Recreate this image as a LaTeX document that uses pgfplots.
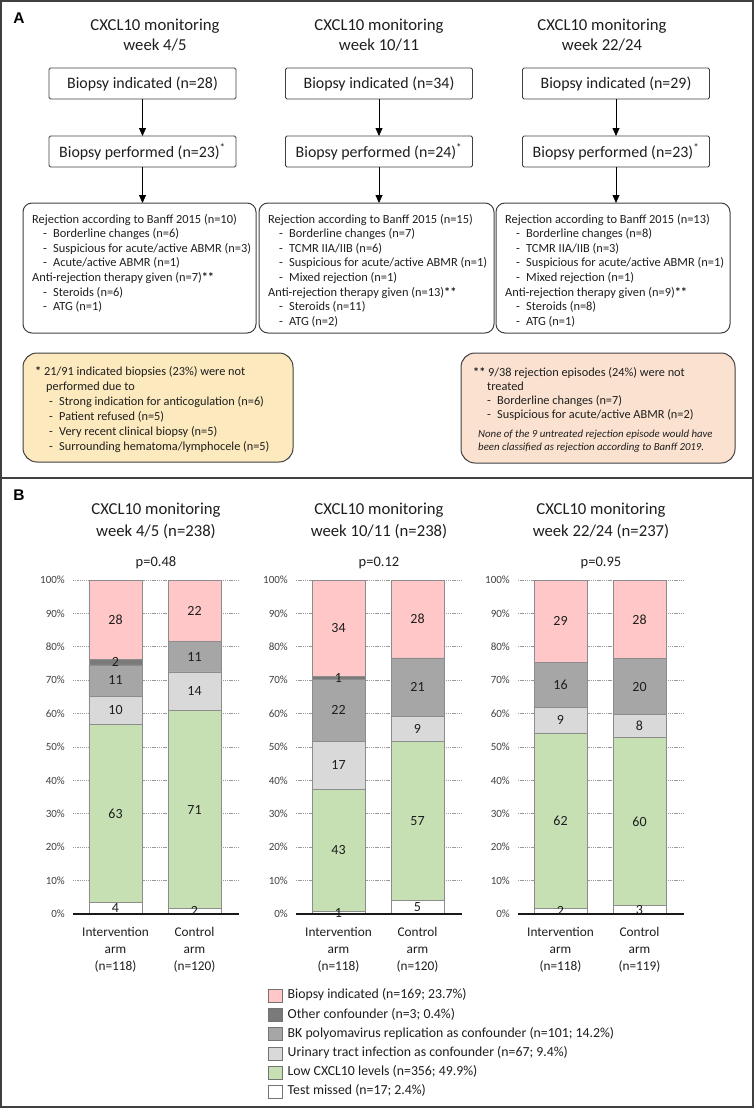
\documentclass[border=0pt]{standalone}
\usepackage{pgfplots}
\pgfplotsset{compat=1.18}
\usepackage{pgfplotstable}
\usepackage{fontspec}
\setmainfont{Carlito}
\newfontfamily\arialfont{Liberation Sans}
\usetikzlibrary{arrows.meta}

\definecolor{cbio}{HTML}{FFC7C7}
\definecolor{coth}{HTML}{7A7A7A}
\definecolor{cbk}{HTML}{A6A6A6}
\definecolor{cuti}{HTML}{D9D9D9}
\definecolor{clow}{HTML}{C6E0B4}
\definecolor{cmiss}{HTML}{FFFFFF}
\definecolor{cedge}{HTML}{8C8C8C}
\definecolor{cyel}{HTML}{FCE9BE}
\definecolor{cpink}{HTML}{FBE2D0}
\definecolor{cline}{HTML}{404040}
\definecolor{ctxt}{HTML}{1E1E1E}
\definecolor{cgrid}{HTML}{9A9A9A}

\newcommand{\fs}[2]{\fontsize{#1}{#2}\selectfont}
\newcommand{\hl}[3]{\node[anchor=base west, inner sep=0pt, font=\fs{12.4}{15}, text=ctxt] at (#1,#2) {#3};}
\newcommand{\bul}[3]{\node[anchor=base west, inner sep=0pt, font=\fs{12.4}{15}, text=ctxt] at (#1,#2) {\makebox[10pt][l]{-}#3};}
\newcommand{\yl}[3]{\node[anchor=base west, inner sep=0pt, font=\fs{12.3}{14}, text=ctxt] at (#1,#2) {#3};}
\newcommand{\ybul}[3]{\node[anchor=base west, inner sep=0pt, font=\fs{12.3}{14}, text=ctxt] at (#1,#2) {\makebox[10pt][l]{-}#3};}

% percentages of each arm (counts / arm size)
\pgfplotstableread{
x     miss   low    uti    bk     oth    bio
42.5  3.390  53.390 8.475  9.322  1.695  23.729
121.5 1.667  59.167 11.667 9.167  0      18.333
}\dataA
\pgfplotstableread{
x     miss   low    uti    bk     oth    bio
42.5  0.847  36.441 14.407 18.644 0.847  28.814
121.5 4.167  47.500 7.500  17.500 0      23.333
}\dataB
\pgfplotstableread{
x     miss   low    uti    bk     oth    bio
42.5  1.695  52.542 7.627  13.559 0      24.576
121.5 2.521  50.420 6.723  16.807 0      23.529
}\dataC
% segment mid-points and counts
\pgfplotstableread{
x     y      lab
42.5  1.695  4
42.5  30.085 63
42.5  61.017 10
42.5  69.915 11
42.5  75.424 2
42.5  88.136 28
121.5 0.833  2
121.5 31.250 71
121.5 66.667 14
121.5 77.083 11
121.5 90.833 22
}\labA
\pgfplotstableread{
x     y      lab
42.5  0.424  1
42.5  19.068 43
42.5  44.492 17
42.5  61.017 22
42.5  70.763 1
42.5  85.593 34
121.5 2.083  5
121.5 27.917 57
121.5 55.417 9
121.5 67.917 21
121.5 88.333 28
}\labB
\pgfplotstableread{
x     y      lab
42.5  0.847  2
42.5  27.966 62
42.5  58.051 9
42.5  68.644 16
42.5  87.712 29
121.5 1.261  3
121.5 27.731 60
121.5 56.303 8
121.5 68.067 20
121.5 88.235 28
}\labC

\pgfplotsset{
  barbase/.style={at={(#1pt,-914pt)}, anchor=south west, scale only axis,
    width=166pt, height=334pt, xmin=0, xmax=166, ymin=0, ymax=100},
  barax/.style={barbase=#1, ybar stacked, bar width=53pt,
    axis line style={draw=none}, major tick length=0pt, tick style={draw=none},
    ytick={0,10,...,100},
    yticklabels={0\%,10\%,20\%,30\%,40\%,50\%,60\%,70\%,80\%,90\%,100\%},
    yticklabel style={font=\fs{11}{12}, text=ctxt!85, anchor=east, inner sep=0pt, xshift=-8pt},
    xtick={42.5,121.5},
    xticklabel style={font=\fs{13.3}{17}, text=ctxt, align=center, anchor=north, inner sep=0pt, yshift=-13.5pt},
    ymajorgrids, major grid style={cgrid, line width=0.7pt, dash pattern=on 1.3pt off 0.9pt}},
  labax/.style={barbase=#1, axis x line*=bottom, axis y line=none, xtick=\empty, ytick=\empty,
    x axis line style={black!90, line width=1.5pt}, clip=false},
  segs/.style={draw=cedge, line width=0.7pt},
  labs/.style={draw=none, mark=none, nodes near coords, point meta=explicit symbolic,
    every node near coord/.append style={anchor=center, inner sep=0pt, font=\fs{14}{14}, text=ctxt}},
}

\begin{document}
\begin{tikzpicture}
\useasboundingbox (0pt,0pt) rectangle (754pt,-1108pt);
\begin{scope}[x=1pt,y=-1pt]
% frame
\draw[cline, line width=1.8pt] (1,1) rectangle (753,1107);
\draw[cline, line width=1.8pt] (1,478) -- (753,478);
\node[font=\arialfont\bfseries\fs{15.5}{15}] at (19,18.5) {A};
\node[font=\arialfont\bfseries\fs{15.5}{15}] at (19,495.5) {B};
% panel A titles
\foreach \cx/\wk in {155/4\slash 5, 379/10\slash 11, 602/22\slash 24}{
  \node[anchor=base, inner sep=0pt, font=\fs{16.7}{20}, text=ctxt] at (\cx,31) {CXCL10 monitoring};
  \node[anchor=base, inner sep=0pt, font=\fs{16.7}{20}, text=ctxt] at (\cx,51) {week \wk};
}
% small boxes and arrows
\foreach \cx/\a/\b in {142.5/28/23, 379/34/24, 616/29/23}{
  \node[draw=cline, line width=0.9pt, rounded corners=1.5pt, minimum width=187pt, minimum height=31pt, inner sep=0pt, font=\fs{15.9}{18}, text=ctxt] at (\cx,83.5) {Biopsy indicated (n=\a)};
  \node[draw=cline, line width=0.9pt, rounded corners=1.5pt, minimum width=187pt, minimum height=31pt, inner sep=0pt, font=\fs{15.9}{18}, text=ctxt] at (\cx,151.5) {Biopsy performed (n=\b)\textsuperscript{*}};
  \draw[black, line width=0.8pt, -{Triangle[width=7pt,length=8pt]}] (\cx,99) -- (\cx,136);
  \draw[black, line width=0.8pt, -{Triangle[width=7pt,length=8pt]}] (\cx,167) -- (\cx,203);
}
% big boxes
\draw[cline, line width=1pt, rounded corners=9pt] (23,203) rectangle (256,333);
\draw[cline, line width=1pt, rounded corners=9pt] (259,203) rectangle (494,333);
\draw[cline, line width=1pt, rounded corners=9pt] (496,203) rectangle (730,333);
% column 1
\hl{32}{223}{Rejection according to Banff 2015 (n=10)}
\bul{43}{237.6}{Borderline changes (n=6)}
\bul{43}{252.2}{Suspicious for acute/active ABMR (n=3)}
\bul{43}{266.8}{Acute/active ABMR (n=1)}
\hl{32}{281.4}{Anti-rejection therapy given (n=7)\textbf{**}}
\bul{43}{296}{Steroids (n=6)}
\bul{43}{310.6}{ATG (n=1)}
% column 2
\hl{268}{223}{Rejection according to Banff 2015 (n=15)}
\bul{279}{237.6}{Borderline changes (n=7)}
\bul{279}{252.2}{TCMR IIA/IIB (n=6)}
\bul{279}{266.8}{Suspicious for acute/active ABMR (n=1)}
\bul{279}{281.4}{Mixed rejection (n=1)}
\hl{268}{296}{Anti-rejection therapy given (n=13)\textbf{**}}
\bul{279}{310.6}{Steroids (n=11)}
\bul{279}{325.2}{ATG (n=2)}
% column 3
\hl{505}{223}{Rejection according to Banff 2015 (n=13)}
\bul{516}{237.6}{Borderline changes (n=8)}
\bul{516}{252.2}{TCMR IIA/IIB (n=3)}
\bul{516}{266.8}{Suspicious for acute/active ABMR (n=1)}
\bul{516}{281.4}{Mixed rejection (n=1)}
\hl{505}{296}{Anti-rejection therapy given (n=9)\textbf{**}}
\bul{516}{310.6}{Steroids (n=8)}
\bul{516}{325.2}{ATG (n=1)}
% footnote boxes
\draw[cline, line width=1pt, fill=cyel, rounded corners=14pt] (23,353) rectangle (293,462);
\yl{35}{375.5}{\textbf{*} 21/91 indicated biopsies (23\%) were not}
\yl{46}{390.5}{performed due to}
\ybul{49}{405.5}{Strong indication for anticogulation (n=6)}
\ybul{49}{420.5}{Patient refused (n=5)}
\ybul{49}{435.5}{Very recent clinical biopsy (n=5)}
\ybul{49}{450.5}{Surrounding hematoma/lymphocele (n=5)}
\draw[cline, line width=1pt, fill=cpink, rounded corners=14pt] (461,353) rectangle (735,463);
\yl{473}{376.5}{\textbf{**} 9/38 rejection episodes (24\%) were not}
\yl{487}{390.5}{treated}
\ybul{487}{404.5}{Borderline changes (n=7)}
\ybul{487}{418.5}{Suspicious for acute/active ABMR (n=2)}
\node[anchor=base west, inner sep=0pt, font=\fs{10.8}{12}\itshape, text=ctxt] at (478,437.5) {None of the 9 untreated rejection episode would have};
\node[anchor=base west, inner sep=0pt, font=\fs{10.8}{12}\itshape, text=ctxt] at (478,450.5) {been classified as rejection according to Banff 2019.};
% panel B titles
\foreach \cx/\wk/\p in {156/4\slash 5 (n=238)/0.48, 379/10\slash 11 (n=238)/0.12, 601/22\slash 24 (n=237)/0.95}{
  \node[anchor=base, inner sep=0pt, font=\fs{16.7}{20}, text=ctxt] at (\cx,514) {CXCL10 monitoring};
  \node[anchor=base, inner sep=0pt, font=\fs{16.7}{20}, text=ctxt] at (\cx,536) {week \wk};
  \node[anchor=base, inner sep=0pt, font=\fs{14.5}{16}, text=ctxt] at (\cx,566.5) {p=\p};
}
\end{scope}

% ---- bar chart 1 ----
\begin{axis}[barax=73, xticklabels={{Intervention\\arm\\(n=118)},{Control\\arm\\(n=120)}}]
\addplot[segs, fill=cmiss] table[x=x,y=miss]{\dataA};
\addplot[segs, fill=clow] table[x=x,y=low]{\dataA};
\addplot[segs, fill=cuti] table[x=x,y=uti]{\dataA};
\addplot[segs, fill=cbk] table[x=x,y=bk]{\dataA};
\addplot[segs, fill=coth] table[x=x,y=oth]{\dataA};
\addplot[segs, fill=cbio] table[x=x,y=bio]{\dataA};
\end{axis}
\begin{axis}[labax=73]
\addplot[labs] table[x=x,y=y,meta=lab]{\labA};
\end{axis}

% ---- bar chart 2 (with legend) ----
\begin{axis}[barax=296, xticklabels={{Intervention\\arm\\(n=118)},{Control\\arm\\(n=120)}},
  reverse legend, legend cell align=left,
  legend style={at={(-0.1687,-0.2246)}, anchor=north west, draw=none, fill=none,
    inner sep=0pt, outer sep=0pt, row sep=5.5pt, font=\fs{13.8}{13}, text=ctxt,
    nodes={inner sep=0pt, text height=9.5pt, text depth=3.5pt},
    /tikz/every odd column/.append style={column sep=5pt}},
  legend image code/.code={\draw[#1, draw=black!55, line width=0.7pt] (0pt,-6.5pt) rectangle (14pt,6.5pt);}]
\addplot[segs, fill=cmiss] table[x=x,y=miss]{\dataB};
\addlegendentry{Test missed (n=17; 2.4\%)}
\addplot[segs, fill=clow] table[x=x,y=low]{\dataB};
\addlegendentry{Low CXCL10 levels (n=356; 49.9\%)}
\addplot[segs, fill=cuti] table[x=x,y=uti]{\dataB};
\addlegendentry{Urinary tract infection as confounder (n=67; 9.4\%)}
\addplot[segs, fill=cbk] table[x=x,y=bk]{\dataB};
\addlegendentry{BK polyomavirus replication as confounder (n=101; 14.2\%)}
\addplot[segs, fill=coth] table[x=x,y=oth]{\dataB};
\addlegendentry{Other confounder (n=3; 0.4\%)}
\addplot[segs, fill=cbio] table[x=x,y=bio]{\dataB};
\addlegendentry{Biopsy indicated (n=169; 23.7\%)}
\end{axis}
\begin{axis}[labax=296]
\addplot[labs] table[x=x,y=y,meta=lab]{\labB};
\end{axis}

% ---- bar chart 3 ----
\begin{axis}[barax=518, xticklabels={{Intervention\\arm\\(n=118)},{Control\\arm\\(n=119)}}]
\addplot[segs, fill=cmiss] table[x=x,y=miss]{\dataC};
\addplot[segs, fill=clow] table[x=x,y=low]{\dataC};
\addplot[segs, fill=cuti] table[x=x,y=uti]{\dataC};
\addplot[segs, fill=cbk] table[x=x,y=bk]{\dataC};
\addplot[segs, fill=coth] table[x=x,y=oth]{\dataC};
\addplot[segs, fill=cbio] table[x=x,y=bio]{\dataC};
\end{axis}
\begin{axis}[labax=518]
\addplot[labs] table[x=x,y=y,meta=lab]{\labC};
\end{axis}
\end{tikzpicture}
\end{document}
